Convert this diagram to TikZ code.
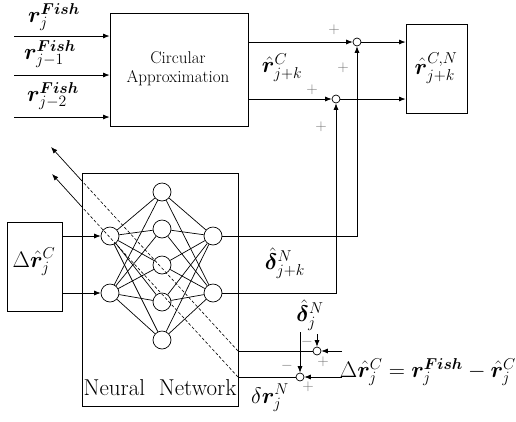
\RequirePackage{fix-cm}
\documentclass[tikz,border=0pt]{standalone}
\usepackage{amsmath,bm}
\usetikzlibrary{arrows.meta,calc}
\begin{document}
\begin{tikzpicture}[x=1pt,y=-1pt,
  box/.style={draw, line width=0.9pt, inner sep=0pt},
  neuron/.style={draw, circle, minimum size=18pt, inner sep=0pt, line width=0.7pt},
  sumnode/.style={draw, circle, minimum size=8pt, inner sep=0pt, line width=0.7pt, fill=white},
  conn/.style={line width=0.7pt},
  arr/.style={line width=0.7pt, -{Latex[length=6.5pt,width=5pt]}},
  dsh/.style={line width=0.6pt, dash pattern=on 3pt off 2pt},
  sgn/.style={text=black!55, font=\fontsize{15}{15}\selectfont, inner sep=0pt},
  lbl/.style={font=\fontsize{22.5}{26}\selectfont, inner sep=0pt},
]
\useasboundingbox (0,0) rectangle (516,421);

% boxes
\node[box, minimum width=138pt, minimum height=113pt] (ca) at (179,69.5) {};
\node[align=center, inner sep=0pt, font=\fontsize{17}{19}\selectfont] (cal) at (178,69) {Circular\\Approximation};
\node[box, minimum width=61pt, minimum height=89pt] (rb) at (436.5,68.5) {};
\node[lbl] (rbl) at (436,68) {$\hat{\bm r}^{C,N}_{j+k}$};
\node[box, minimum width=156pt, minimum height=233pt] (nn) at (160,289.5) {};
\node[font=\fontsize{23}{24}\selectfont, inner sep=0pt] (nnl) at (160,388) {Neural\ \ Network};
\node[box, minimum width=55pt, minimum height=89pt] (dr) at (34.5,266.5) {};
\node[lbl] (drl) at (34,262) {$\Delta\hat{\bm r}^C_j$};

% input arrows
\coordinate (f1) at (14,36);
\coordinate (f2) at (14,75);
\coordinate (f3) at (14,117);
\draw[arr] (f1) -- (f1 -| ca.west);
\draw[arr] (f2) -- (f2 -| ca.west);
\draw[arr] (f3) -- (f3 -| ca.west);
\node[lbl] (f1l) at (54,17) {$\bm r^{\bm{Fish}}_{j}$};
\node[lbl] (f2l) at (50,54) {$\bm r^{\bm{Fish}}_{j-1}$};
\node[lbl] (f3l) at (53,96) {$\bm r^{\bm{Fish}}_{j-2}$};

% sum nodes top
\node[sumnode] (s1) at (357,42) {};
\node[sumnode] (s2) at (336,99) {};
\draw[arr] (ca.east |- s1) -- (s1);
\draw[arr] (ca.east |- s2) -- (s2);
\draw[arr] (s1) -- (s1 -| rb.west);
\draw[arr] (s2) -- (s2 -| rb.west);
\node[lbl] (rcl) at (282,68) {$\hat{\bm r}^{C}_{j+k}$};
\node[sgn] (p1) at (334,30) {$+$};
\node[sgn] (p2) at (343,68) {$+$};
\node[sgn] (p3) at (312,90) {$+$};
\node[sgn] (p4) at (321,127) {$+$};

% neurons
\node[neuron] (i1) at (110,236) {};
\node[neuron] (i2) at (110,293) {};
\node[neuron] (h1) at (162,192) {};
\node[neuron] (h2) at (162,229) {};
\node[neuron] (h3) at (162,265) {};
\node[neuron] (h4) at (162,302) {};
\node[neuron] (h5) at (162,340) {};
\node[neuron] (o1) at (213,236) {};
\node[neuron] (o2) at (213,293) {};
\foreach \a in {i1,i2} \foreach \b in {h1,h2,h3,h4,h5} \draw[conn] (\a) -- (\b);
\foreach \a in {h1,h2,h3,h4,h5} \foreach \b in {o1,o2} \draw[conn] (\a) -- (\b);

\draw[arr] (dr.east |- i1) -- (i1);
\draw[arr] (dr.east |- i2) -- (i2);

% outputs to sums
\draw[arr] (o1) -- (o1 -| s1) -- (s1);
\draw[arr] (o2) -- (o2 -| s2) -- (s2);
\node[lbl] (dkl) at (285,263) {$\hat{\bm\delta}^{N}_{j+k}$};

% back-propagated errors
\coordinate (d1e) at (238,351);
\coordinate (d1m) at (82,181);
\coordinate (d1t) at (51,147);
\coordinate (d2e) at (238,377);
\coordinate (d2m) at (82,207);
\coordinate (d2t) at (52,174);
\draw[dsh] (d1e) -- (d1m);
\draw[dsh] (d2e) -- (d2m);
\draw[arr] (d1m) -- (d1t);
\draw[arr] (d2m) -- (d2t);

\node[sumnode] (c1) at (317,351) {};
\node[sumnode] (c2) at (300,377) {};
\draw[conn] (d1e) -- (c1);
\draw[conn] (d2e) -- (c2);
\coordinate (e1) at (342,351);
\coordinate (e2) at (342,377);
\draw[arr] (e1) -- (c1);
\draw[arr] (e2) -- (c2);
\coordinate (v1) at (317,334);
\coordinate (v2) at (300,332);
\draw[arr] (v1) -- (c1);
\draw[arr] (v2) -- (c2);

\node[lbl] (djl) at (310,315) {$\hat{\bm\delta}^{N}_{j}$};
\node[lbl, anchor=east] (eql) at (516,372) {$\Delta\hat{\bm r}^C_j = \bm r^{\bm{Fish}}_j - \hat{\bm r}^C_j$};
\node[lbl] (drn) at (270,398) {$\delta\bm r^{N}_{j}$};
\node[sgn] (m1) at (307,342) {$-$};
\node[sgn] (m2) at (287,366) {$-$};
\node[sgn] (p5) at (323,362) {$+$};
\node[sgn] (p6) at (308,387) {$+$};
\end{tikzpicture}
\end{document}
